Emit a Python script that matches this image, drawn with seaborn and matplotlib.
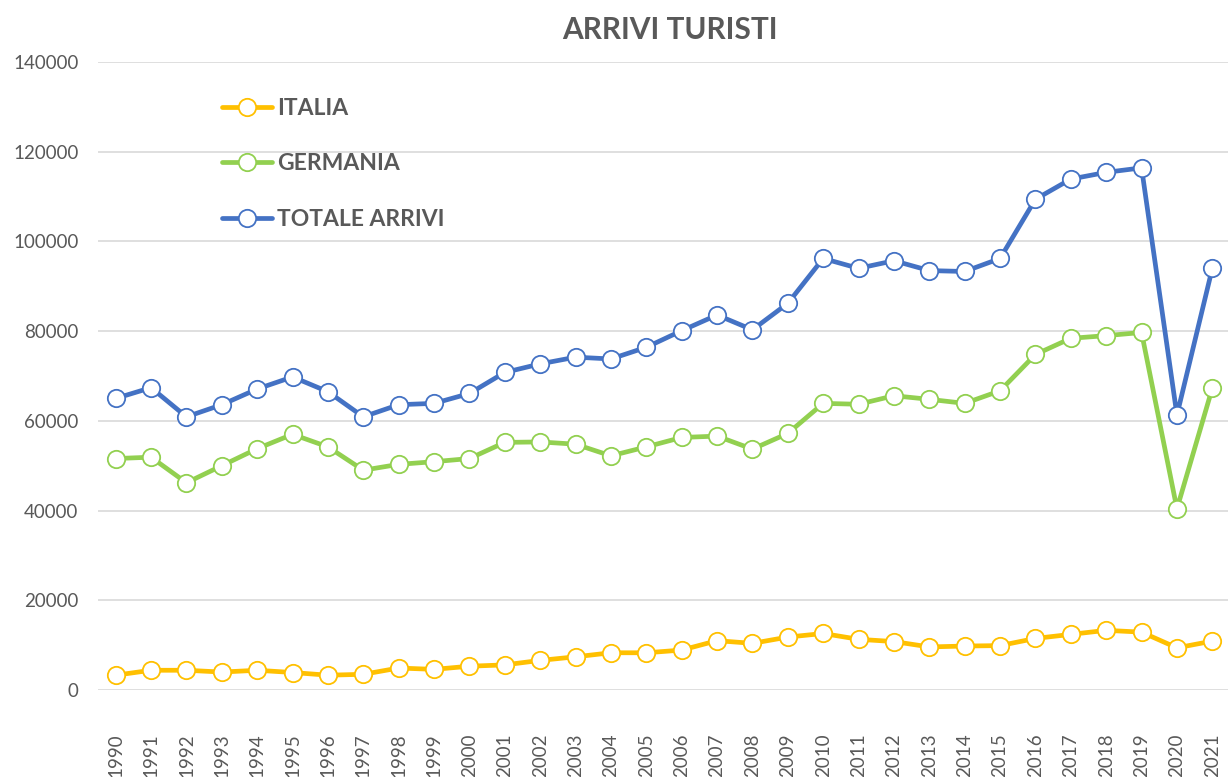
import pandas as pd
import numpy as np
import matplotlib
matplotlib.use('Agg')
import matplotlib.pyplot as plt
import seaborn as sns

# ### values
years = list(range(1990, 2022))

italia = [3300, 4400, 4400, 4000, 4400, 3900, 3300, 3500, 4900, 4600,
          5300, 5600, 6600, 7400, 8300, 8300, 8900, 11000, 10400, 11800,
          12600, 11300, 10800, 9600, 9800, 9900, 11500, 12400, 13300, 12900,
          9400, 10900]

germania = [51600, 51900, 46200, 50000, 53800, 57000, 54200, 49000, 50300, 50900,
            51600, 55200, 55300, 54800, 52200, 54200, 56300, 56600, 53700, 57200,
            63900, 63700, 65600, 64800, 63900, 66700, 74800, 78400, 79000, 79700,
            40400, 67300]

totale = [65000, 67400, 60900, 63600, 67100, 69800, 66500, 60900, 63600, 63900,
          66100, 70800, 72700, 74200, 73800, 76400, 80100, 83600, 80300, 86200,
          96200, 94000, 95700, 93500, 93300, 96200, 109400, 113900, 115400, 116400,
          61300, 94000]

series_names = ['ITALIA', 'GERMANIA', 'TOTALE ARRIVI']
colors = ['#FFC000', '#92D050', '#4472C4']
yticks = [0, 20000, 40000, 60000, 80000, 100000, 120000, 140000]

df = pd.DataFrame({
    'anno': years * 3,
    'arrivi': italia + germania + totale,
    'serie': ['ITALIA'] * len(years) + ['GERMANIA'] * len(years) + ['TOTALE ARRIVI'] * len(years),
})

sns.set_theme(style='white')
plt.rcParams['font.family'] = ['Lato', 'DejaVu Sans']
grey = '#595959'

fig = plt.figure(figsize=(12.28, 7.77), dpi=100)
ax = fig.add_axes([98 / 1228, 87 / 777, 1132 / 1228, 628 / 777])

for name, col in zip(series_names, colors):
    sns.lineplot(data=df[df['serie'] == name],
                 x='anno',
                 y='arrivi',
                 color=col,
                 linewidth=3.4,
                 marker='o',
                 markersize=12.5,
                 markerfacecolor='white',
                 markeredgecolor=col,
                 markeredgewidth=1.3,
                 label=name,
                 ax=ax,
                 )

ax.set_xlim(years[0] - 0.5, years[-1] + 0.5)
ax.set_ylim(0, 140000)
ax.set_yticks(yticks)
ax.set_yticklabels([str(v) for v in yticks])
ax.set_xticks(years)
ax.set_xticklabels([str(y) for y in years], rotation=90)
ax.grid(axis='y', color='#D9D9D9', linewidth=1.2)
ax.set_axisbelow(True)
for s in ax.spines.values():
    s.set_visible(False)
ax.set_xlabel('')
ax.set_ylabel('')
ax.tick_params(axis='y', labelsize=13.5, labelcolor=grey, length=0, pad=14)
ax.tick_params(axis='x', labelsize=13.5, labelcolor=grey, length=0, pad=31)

leg = ax.legend(loc='upper left', bbox_to_anchor=(222 / 1228, 1 - 98 / 777),
                bbox_transform=fig.transFigure, frameon=False,
                handlelength=2.2, handletextpad=0.22, labelspacing=1.5,
                borderpad=0, borderaxespad=0,
                prop={'weight': 'bold', 'size': 16.5})
for t in leg.get_texts():
    t.set_color(grey)

fig.text(670 / 1228, 1 - 30 / 777, 'ARRIVI TURISTI', ha='center', va='center',
         fontsize=21.5, fontweight='bold', color=grey)

plt.savefig('out.png', dpi=100)
